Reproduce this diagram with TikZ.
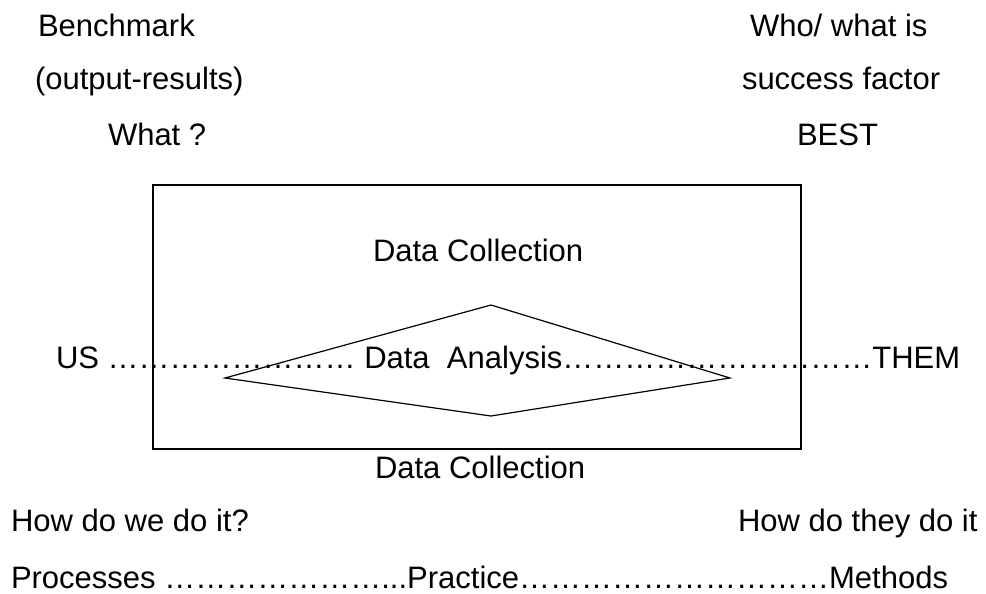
\documentclass[tikz,border=0pt]{standalone}
\usepackage{fontspec}
\setmainfont{Liberation Sans}
\ExplSyntaxOn
\NewDocumentCommand\ells{m}{\prg_replicate:nn{#1}{…}}
\ExplSyntaxOff
\begin{document}
\begin{tikzpicture}[x=1pt,y=-1pt,
  lbl/.style={anchor=base west,inner sep=0pt,outer sep=0pt,font=\fontsize{31}{37}\selectfont},
  outline/.style={draw=black,line width=1.2pt}]
\useasboundingbox (0,0) rectangle (986,594);
% top labels
\node[lbl] (bench) at (38,37) {Benchmark};
\node[lbl] (outres) at (35,90) {(output-results)};
\node[lbl] (what) at (108,145) {What ?};
\node[lbl] (who) at (750,37) {Who/ what is};
\node[lbl] (succ) at (742,90) {success factor};
\node[lbl] (best) at (797,145) {BEST};
% box and diamond
\coordinate (bnw) at (153,185);
\coordinate (bse) at (801,449);
\draw[outline] (bnw) rectangle (bse);
\coordinate (dt) at (491,305);
\coordinate (dl) at (225,378);
\coordinate (db) at (491,416);
\coordinate (dr) at (730,378);
\draw[outline,line join=miter] (dt) -- (dr) -- (db) -- (dl) -- cycle;
% inner texts
\node[lbl] (dc1) at (373,261) {Data Collection};
\node[lbl] (mid) at (56,368) {US \ells{8} Data~~Analysis\ells{10}THEM};
\node[lbl] (dc2) at (375,478) {Data Collection};
% bottom
\node[lbl] (howwe) at (11,531) {How do we do it?};
\node[lbl] (howthey) at (738,531) {How do they do it};
\node[lbl] (proc) at (11,588) {Processes \ells{7}...Practice\ells{10}Methods};
\end{tikzpicture}
\end{document}
